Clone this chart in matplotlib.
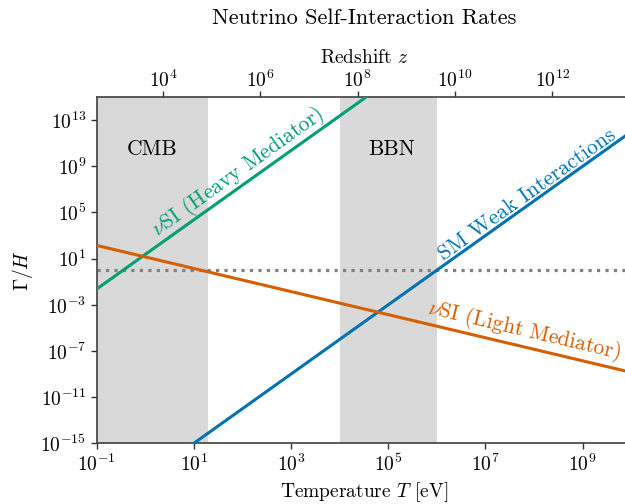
import numpy as np
import matplotlib
matplotlib.use("Agg")
import matplotlib.pyplot as plt
from matplotlib.ticker import FixedLocator, NullLocator

plt.rcParams['font.family'] = 'serif'
plt.rcParams['font.serif'] = ['cmr10']
plt.rcParams['mathtext.fontset'] = 'cm'
plt.rcParams['axes.formatter.use_mathtext'] = True

# line end points (log-log straight lines)
T_weak = [1e1, 1e10]
rate_weak = [1e-15, 1e12]
T_heavy = [1e-1, 1e5]
rate_heavy = [2.3e-2, 2.3e16]
T_light = [1e-1, 1e10]
rate_light = [1.4e2, 1.4e-9]

# shaded epochs (eV)
cmb_range = [1e-1, 20]
bbn_range = [1e4, 1e6]

# redshift conversion T = T0 * z
T0 = 2.35e-4

x_ticks = [1e-1, 1e1, 1e3, 1e5, 1e7, 1e9]
y_ticks = [1e-15, 1e-11, 1e-7, 1e-3, 1e1, 1e5, 1e9, 1e13]
z_ticks = [1e4, 1e6, 1e8, 1e10, 1e12]

blue = '#0072B2'
green = '#009E73'
orange = '#D55E00'

fig = plt.figure(figsize=(6.25, 5.04), dpi=100)
ax = fig.add_axes([0.1546, 0.1204, 0.8554, 0.6871])
ax.set_xscale('log')
ax.set_yscale('log')
ax.set_xlim(1e-1, 1e10)
ax.set_ylim(1e-15, 1e15)

ax.axvspan(*cmb_range, color='#d9d9d9', lw=0, zorder=0)
ax.axvspan(*bbn_range, color='#d9d9d9', lw=0, zorder=0)
ax.axhline(1, color='0.5', ls=':', lw=2.3, zorder=1)

ax.plot(T_weak, rate_weak, color=blue, lw=2.2, zorder=3)
ax.plot(T_heavy, rate_heavy, color=green, lw=2.2, zorder=3)
ax.plot(T_light, rate_light, color=orange, lw=2.2, zorder=3)


def line_angle(xs, ys):
    p = ax.transData.transform(np.column_stack([xs, ys]))
    return np.degrees(np.arctan2(p[1, 1] - p[0, 1], p[1, 0] - p[0, 0]))


ax.text(80, 10**8.5, r'$\nu$SI (Heavy Mediator)', color=green, fontsize=15.5,
        rotation=line_angle(T_heavy, rate_heavy), rotation_mode='anchor',
        ha='center', va='center')
ax.text(10**7.86, 10**6.55, 'SM Weak Interactions', color=blue, fontsize=15.5,
        rotation=line_angle(T_weak, rate_weak), rotation_mode='anchor',
        ha='center', va='center')
ax.text(10**7.8, 10**-5.2, r'$\nu$SI (Light Mediator)', color=orange, fontsize=15.5,
        rotation=line_angle(T_light, rate_light), rotation_mode='anchor',
        ha='center', va='center')
ax.text(1.4, 10**10.5, 'CMB', fontsize=15.5, ha='center', va='center')
ax.text(10**5.08, 10**10.5, 'BBN', fontsize=15.5, ha='center', va='center')

ax.xaxis.set_major_locator(FixedLocator(x_ticks))
ax.yaxis.set_major_locator(FixedLocator(y_ticks))
ax.xaxis.set_minor_locator(NullLocator())
ax.yaxis.set_minor_locator(NullLocator())
ax.tick_params(labelsize=14, length=4, width=1, color='0.2')
for s in ['left', 'bottom', 'top']:
    ax.spines[s].set_color('0.25')
    ax.spines[s].set_linewidth(1.2)
ax.spines['right'].set_visible(False)

ax.set_xlabel(r'Temperature $T$ [eV]', fontsize=14)
ax.set_ylabel(r'$\Gamma/H$', fontsize=14)

secax = ax.secondary_xaxis('top', functions=(lambda t: t / T0, lambda z: z * T0))
secax.xaxis.set_major_locator(FixedLocator(z_ticks))
secax.xaxis.set_minor_locator(NullLocator())
secax.tick_params(labelsize=14, length=4, width=1, color='0.2', pad=0)
secax.spines['top'].set_visible(False)
secax.set_xlabel(r'Redshift $z$', fontsize=14, labelpad=5)

ax.set_title('Neutrino Self-Interaction Rates', fontsize=16, pad=18)

fig.savefig('out.png', dpi=100)
